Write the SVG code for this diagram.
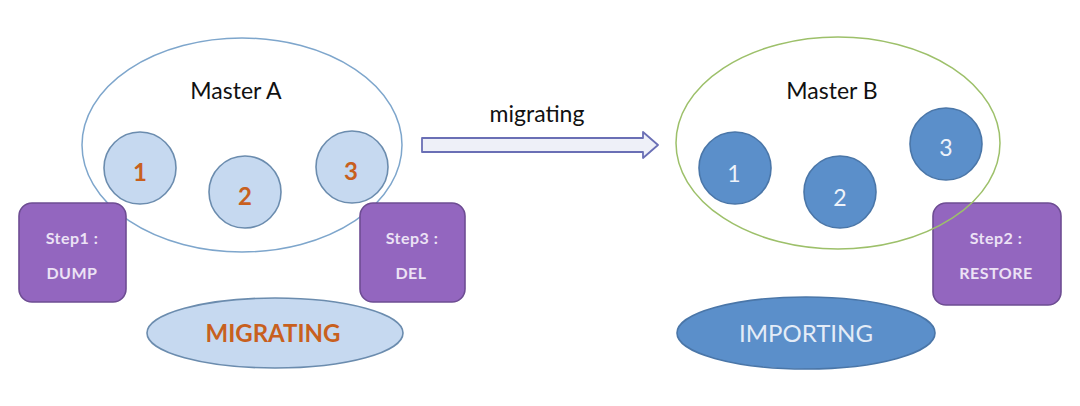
<svg xmlns="http://www.w3.org/2000/svg" width="1080" height="406" viewBox="0 0 1080 406">
<style>
text{font-family:Lato,"Open Sans","Liberation Sans",sans-serif;text-anchor:middle}
.lb{fill:#c6d9f0;stroke:#6b8cae;stroke-width:1.6}
.db{fill:#5b8fca;stroke:#4a76a8;stroke-width:1.6}
.step{fill:#9366bf;stroke:#6e4d93;stroke-width:1.6}
.st{fill:#ece2f5;font-size:16px;font-weight:bold;letter-spacing:0.5px}
.on{fill:#c8601e;font-size:24px;font-weight:bold}
.wn{fill:#eef3fa;font-size:23px}
.title{fill:#111;font-size:23px}
</style>
<rect width="1080" height="406" fill="#fff"/>
<g id="masterA">
<ellipse cx="242" cy="145" rx="160" ry="107" fill="none" stroke="#7ea6cc" stroke-width="1.5"/>
<text class="title" x="236" y="99">Master A</text>
</g>
<g id="a1"><circle class="lb" cx="140" cy="168" r="36"/><text class="on" x="140" y="181">1</text></g>
<g id="a2"><circle class="lb" cx="245" cy="192" r="36"/><text class="on" x="245" y="205">2</text></g>
<g id="a3"><circle class="lb" cx="352" cy="167" r="36"/><text class="on" x="351" y="180">3</text></g>
<g id="step1"><rect class="step" x="19" y="203" width="107" height="99" rx="13"/><text class="st" x="72" y="244">Step1 :</text><text class="st" x="72" y="279">DUMP</text></g>
<g id="step3"><rect class="step" x="360" y="203" width="105" height="99" rx="13"/><text class="st" x="412" y="244">Step3 :</text><text class="st" x="411" y="279">DEL</text></g>
<g id="migratingState"><ellipse class="lb" cx="275" cy="333" rx="128" ry="35"/><text x="273" y="342" fill="#c8601e" font-size="24" font-weight="bold">MIGRATING</text></g>
<g id="connectors">
<path d="M422,138 H643 V132 L658,145 L643,158 V152 H422 Z" fill="#eef0f8" stroke="#6a6fb5" stroke-width="1.8" stroke-linejoin="round"/>
<text x="537" y="122" fill="#111" font-size="23">migrating</text>
</g>
<g id="step2"><rect class="step" x="933" y="203" width="128" height="102" rx="13"/><text class="st" x="996" y="244">Step2 :</text><text class="st" x="996" y="279">RESTORE</text></g>
<g id="masterB">
<ellipse cx="838" cy="143" rx="162" ry="106" fill="none" stroke="#9dc06a" stroke-width="1.5"/>
<text class="title" x="832" y="99">Master B</text>
</g>
<g id="b1"><circle class="db" cx="735" cy="168" r="36"/><text class="wn" x="734" y="182">1</text></g>
<g id="b2"><circle class="db" cx="840" cy="192" r="36"/><text class="wn" x="840" y="206">2</text></g>
<g id="b3"><circle class="db" cx="946" cy="144" r="36"/><text class="wn" x="946" y="156">3</text></g>
<g id="importingState"><ellipse class="db" cx="806" cy="333" rx="129" ry="36"/><text x="806" y="342" fill="#e4ecf7" font-size="24">IMPORTING</text></g>
</svg>
